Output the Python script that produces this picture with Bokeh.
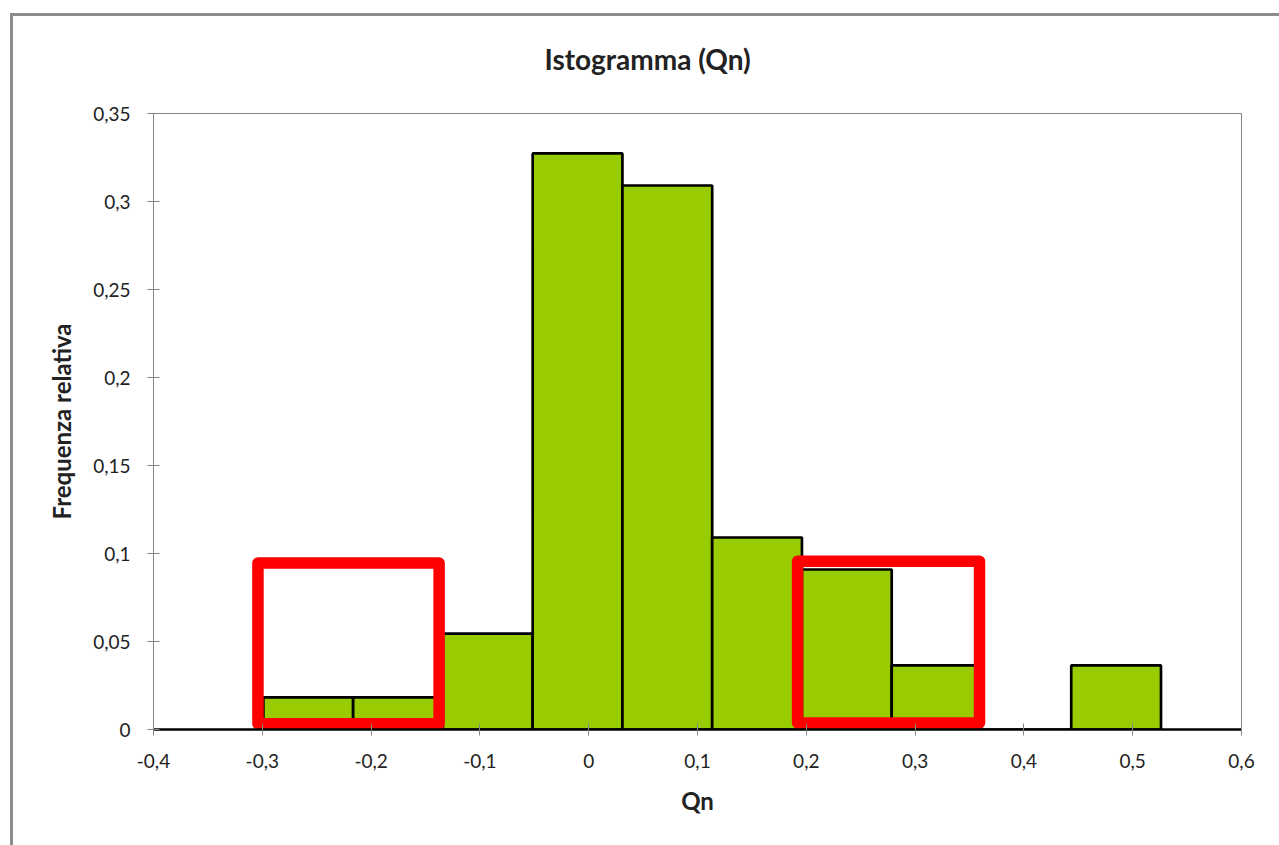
from bokeh.plotting import figure
from bokeh.models import FixedTicker, Range1d, ColumnDataSource
from bokeh.embed import file_html
from bokeh.resources import INLINE

# ---- data ----
bin_left = [-0.299, -0.2165, -0.134, -0.0515, 0.031, 0.1135, 0.196, 0.2785, 0.361, 0.4435]
bin_right = [-0.2165, -0.134, -0.0515, 0.031, 0.1135, 0.196, 0.2785, 0.361, 0.4435, 0.526]
rel_freq = [0.0182, 0.0182, 0.0545, 0.3273, 0.3091, 0.1091, 0.0909, 0.0364, 0.0, 0.0364]

x_ticks = [-0.4, -0.3, -0.2, -0.1, 0.0, 0.1, 0.2, 0.3, 0.4, 0.5, 0.6]
x_tick_labels = ["-0,4", "-0,3", "-0,2", "-0,1", "0", "0,1", "0,2", "0,3", "0,4", "0,5", "0,6"]
y_ticks = [0.0, 0.05, 0.1, 0.15, 0.2, 0.25, 0.3, 0.35]
y_tick_labels = ["0", "0,05", "0,1", "0,15", "0,2", "0,25", "0,3", "0,35"]

# highlighted regions (red frames)
hl_left = [-0.304, 0.192]
hl_right = [-0.1375, 0.3592]
hl_bottom = [0.0032, 0.0037]
hl_top = [0.0946, 0.0956]

title_text = "Istogramma (Qn)"
x_label = "Qn"
y_label = "Frequenza relativa"

FONT = "Lato"
TXT = "#222222"
AX = "#868686"
FRAME = "#8c8c8c"

W, H = 1279, 845
p = figure(width=W, height=H, output_backend="svg", toolbar_location=None,
           x_range=Range1d(-0.4, 0.6), y_range=Range1d(0, 0.35),
           min_border_left=153, min_border_right=38, min_border_top=113, min_border_bottom=116)
p.xgrid.visible = False
p.ygrid.visible = False
p.outline_line_color = AX
p.outline_line_width = 1
p.background_fill_color = "white"
p.border_fill_color = None

# outer chart frame: left and top edges (CSS background on the figure element)
p.styles = {
    "background-color": "white",
    "background-image": f"linear-gradient({FRAME}, {FRAME}), linear-gradient({FRAME}, {FRAME})",
    "background-position": "10px 13px, 10px 13px",
    "background-size": "3px 100%, 100% 3px",
    "background-repeat": "no-repeat",
}

src = ColumnDataSource(dict(left=bin_left, right=bin_right, top=rel_freq, bottom=[0] * len(rel_freq)))
p.quad(left="left", right="right", top="top", bottom="bottom", source=src,
       fill_color="#99CC00", line_color="black", line_width=2.7)

hl = ColumnDataSource(dict(left=hl_left, right=hl_right, top=hl_top, bottom=hl_bottom))
p.quad(left="left", right="right", top="top", bottom="bottom", source=hl,
       fill_alpha=0, line_color="#FF0000", line_width=11.5, line_join="round")

# axes
xa = p.xaxis[0]
ya = p.yaxis[0]
xa.ticker = FixedTicker(ticks=x_ticks)
ya.ticker = FixedTicker(ticks=y_ticks)
xa.major_label_overrides = dict(zip(x_ticks, x_tick_labels))
ya.major_label_overrides = dict(zip(y_ticks, y_tick_labels))
for ax in (xa, ya):
    ax.minor_tick_line_color = None
    ax.major_tick_in = 6
    ax.major_tick_out = 6
    ax.major_tick_line_color = AX
    ax.major_label_text_font = FONT
    ax.major_label_text_font_size = "19px"
    ax.major_label_text_color = TXT
    ax.axis_label_text_font = FONT
    ax.axis_label_text_font_style = "bold"
    ax.axis_label_text_font_size = "24px"
    ax.axis_label_text_color = TXT
ya.axis_line_color = AX
ya.axis_line_width = 1
xa.axis_line_color = "black"
xa.axis_line_width = 2.7
xa.axis_label = x_label
ya.axis_label = y_label
ya.major_label_standoff = 17
xa.major_label_standoff = 18
ya.axis_label_standoff = 14
xa.axis_label_standoff = 15

# title (centred over the whole chart area, not only over the plot frame)
p.title.text = title_text
p.title.text_font = FONT
p.title.text_font_style = "bold"
p.title.text_font_size = "28px"
p.title.text_color = TXT
p.title.align = "left"
p.title.offset = 391
p.title.standoff = 76

open("out.html", "w").write(file_html(p, INLINE))
